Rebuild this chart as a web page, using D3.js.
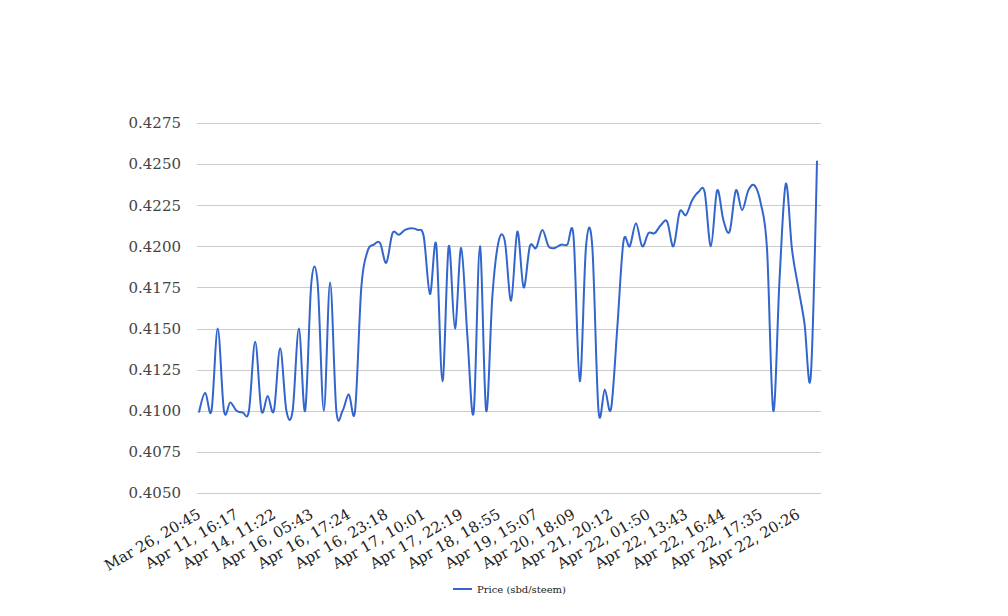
<!DOCTYPE html>
<html><head><meta charset="utf-8">
<script src="https://cdn.jsdelivr.net/npm/d3@7"></script>
<style>html,body{margin:0;padding:0;background:#fff;}</style>
</head><body>
<svg id="chart" width="1008" height="616"></svg>
<script>
const seriesName = "Price (sbd/steem)";
const tickLabels = ["Mar 26, 20:45","Apr 11, 16:17","Apr 14, 11:22","Apr 16, 05:43","Apr 16, 17:24","Apr 16, 23:18","Apr 17, 10:01","Apr 17, 22:19","Apr 18, 18:55","Apr 19, 15:07","Apr 20, 18:09","Apr 21, 20:12","Apr 22, 01:50","Apr 22, 13:43","Apr 22, 16:44","Apr 22, 17:35","Apr 22, 20:26"];
const labelEvery = 6;
const prices = [
 0.4099,0.4111,0.4100,0.4150,0.4100,0.4105,0.4100,0.4099,0.4100,0.4142,
 0.4100,0.4109,0.4100,0.4138,0.4100,0.4100,0.4150,0.4100,0.4178,0.4178,
 0.4100,0.4178,0.4100,0.4100,0.4110,0.4100,0.4175,0.4197,0.4201,0.4202,
 0.4190,0.4208,0.4207,0.4210,0.4211,0.4210,0.4206,0.4171,0.4201,0.4118,
 0.4200,0.4150,0.4199,0.4145,0.4099,0.4200,0.4100,0.4170,0.4203,0.4203,
 0.4167,0.4209,0.4175,0.4200,0.4199,0.4210,0.4200,0.4199,0.4201,0.4201,
 0.4206,0.4118,0.4200,0.4200,0.4100,0.4113,0.4101,0.4150,0.4203,0.4200,
 0.4214,0.4200,0.4208,0.4208,0.4213,0.4215,0.4200,0.4221,0.4219,0.4228,
 0.4233,0.4233,0.4200,0.4234,0.4216,0.4209,0.4234,0.4222,0.4234,0.4237,
 0.4226,0.4198,0.4100,0.4180,0.4238,0.4198,0.4175,0.4153,0.4121,0.4252
];
const yTicks = [0.4050,0.4075,0.4100,0.4125,0.4150,0.4175,0.4200,0.4225,0.4250,0.4275];

const svg = d3.select("#chart");
const font = "'DejaVu Serif', serif";
const x = d3.scaleLinear().domain([0, prices.length - 1]).range([199, 817]);
const y = d3.scaleLinear().domain([0.4050, 0.4275]).range([493, 123]);

// gridlines
svg.append("g").selectAll("line").data(yTicks).join("line")
  .attr("x1", 197).attr("x2", 821)
  .attr("y1", d => Math.round(y(d)) + 0.5).attr("y2", d => Math.round(y(d)) + 0.5)
  .attr("stroke", "#cccccc").attr("stroke-width", 1);

// y axis labels
const yAxis = d3.axisLeft(y).tickValues(yTicks).tickFormat(d3.format(".4f")).tickSize(0).tickPadding(0);
const gy = svg.append("g").attr("transform", "translate(181,0)").call(yAxis);
gy.select(".domain").remove();
gy.selectAll("text").attr("font-family", font).attr("font-size", 15).attr("fill", "#444");

// x axis labels
const xTickIdx = tickLabels.map((_, i) => i * labelEvery);
const xAxis = d3.axisBottom(x).tickValues(xTickIdx).tickFormat((d, i) => tickLabels[i]).tickSize(0).tickPadding(0);
const gx = svg.append("g").attr("transform", "translate(0,506)").call(xAxis);
gx.select(".domain").remove();
gx.selectAll("text")
  .attr("font-family", font).attr("font-size", 15).attr("fill", "#222")
  .attr("text-anchor", "end").attr("dy", "0.71em")
  .attr("transform", "translate(-3,2) rotate(-30)");

// line
const line = d3.line().x((d, i) => x(i)).y(d => y(d)).curve(d3.curveCardinal.tension(0));
svg.append("path").datum(prices)
  .attr("d", line).attr("fill", "none")
  .attr("stroke", "#3366cc").attr("stroke-width", 2).attr("stroke-linejoin", "round");

// legend
const lg = svg.append("g").attr("transform", "translate(453,589)");
lg.append("line").attr("x1", 0).attr("x2", 19).attr("y1", 0).attr("y2", 0).attr("stroke", "#3366cc").attr("stroke-width", 2);
lg.append("text").attr("x", 24).attr("y", 0).attr("dy", "0.35em").attr("font-family", font).attr("font-size", 10).attr("fill", "#222").text(seriesName);
</script>
</body></html>
